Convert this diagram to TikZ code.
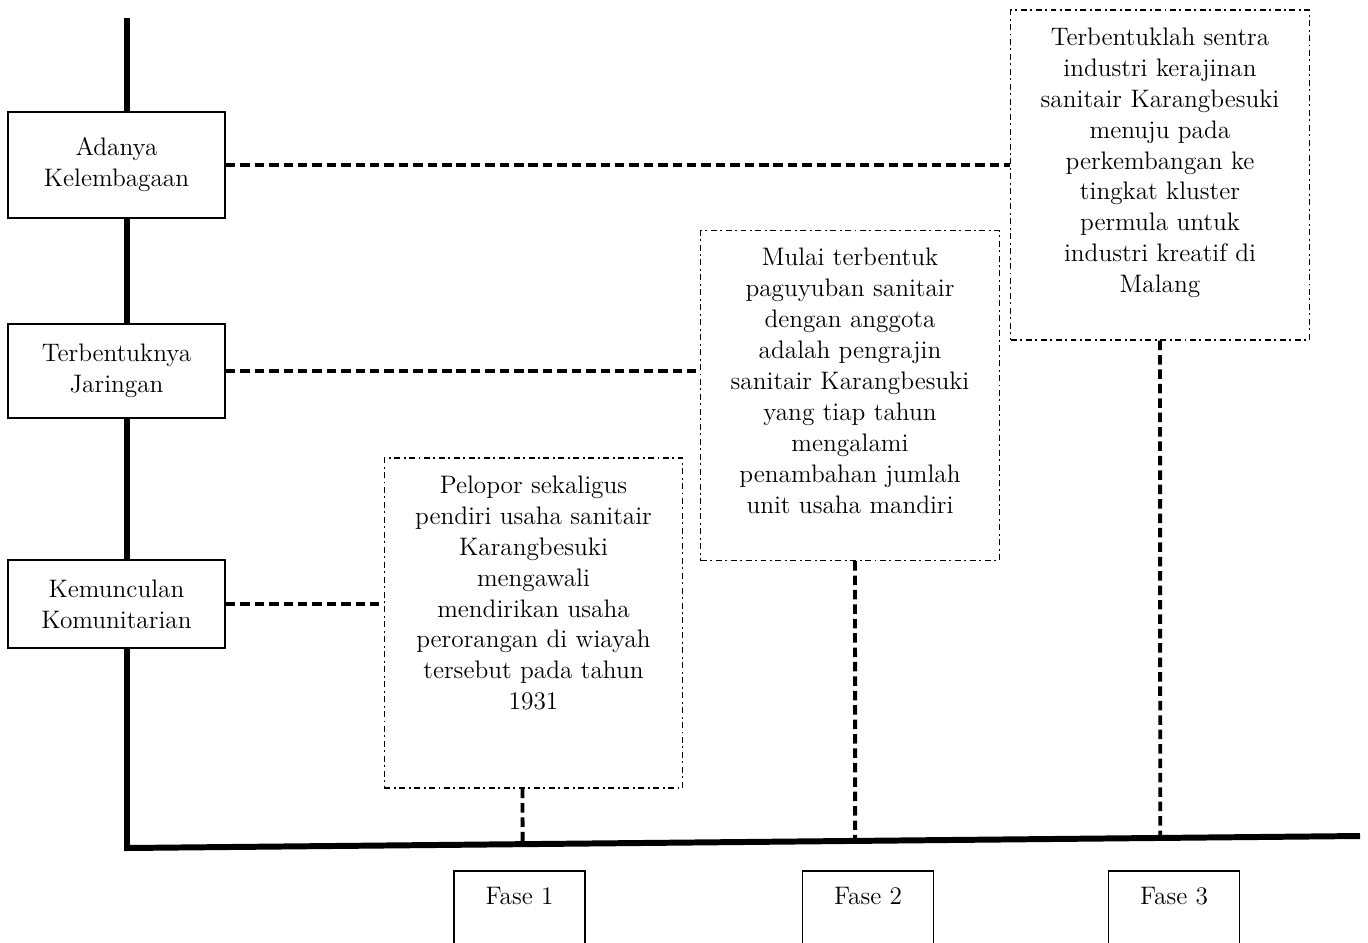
\documentclass[tikz,border=0pt]{standalone}
\usetikzlibrary{calc}
\begin{document}
\begin{tikzpicture}[
	font = \fontsize{14.4}{17.6}\selectfont,
	kotak/.style = {draw, fill = white, line width = 1pt, minimum width = 4.34cm, align = center},
	fase/.style = {draw, line width = 1pt, minimum width = 2.62cm, text height = 0.56cm, text depth = 1.6cm, anchor = north},
	uraian/.style = {draw, line width = 0.7pt, dash pattern = on 3.4pt off 2pt on 1.1pt off 2pt, minimum width = 5.97cm, minimum height = 6.6cm},
	isi/.style = {anchor = north, align = center, inner sep = 0pt, text width = 5.6cm, yshift = -0.36cm},
	garis/.style = {line width = 2.2pt, dash pattern = on 5.4pt off 2.8pt}
	]
	\clip (0,0) rectangle (27.36,-18.84);
	\coordinate (atas) at (2.54,-0.36);
	\coordinate (pusat) at (2.54,-16.96);
	\coordinate (ujung) at (27.2,-16.72);
	\draw [line width = 3.4pt] (atas) -- (pusat) -- (ujung);
	\node [kotak, minimum height = 2.12cm] (k1) at (2.33,-3.30) {Adanya\\Kelembagaan};
	\node [kotak, minimum height = 1.88cm] (k2) at (2.33,-7.42) {Terbentuknya\\Jaringan};
	\node [kotak, minimum height = 1.76cm] (k3) at (2.33,-12.08) {Kemunculan\\Komunitarian};
	\node [uraian] (p1) at (10.67,-12.46) {};
	\node [isi] (t1) at (p1.north) {Pelopor sekaligus\\pendiri usaha sanitair\\Karangbesuki\\mengawali\\mendirikan usaha\\perorangan di wiayah\\tersebut pada tahun\\1931};
	\node [uraian] (p2) at (17.0,-7.91) {};
	\node [isi] (t2) at (p2.north) {Mulai terbentuk\\paguyuban sanitair\\dengan anggota\\adalah pengrajin\\sanitair Karangbesuki\\yang tiap tahun\\mengalami\\penambahan jumlah\\unit usaha mandiri};
	\node [uraian] (p3) at (23.2,-3.5) {};
	\node [isi] (t3) at (p3.north) {Terbentuklah sentra\\industri kerajinan\\sanitair Karangbesuki\\menuju pada\\perkembangan ke\\tingkat kluster\\permula untuk\\industri kreatif di\\Malang};
	\coordinate (a1) at ($(p1.south)+(-0.22,0)$);
	\coordinate (a2) at ($(p2.south)+(0.1,0)$);
	\coordinate (a3) at (p3.south);
	\draw [garis] (k1.east) -- (k1.east -| p3.west);
	\draw [garis] (k2.east) -- (k2.east -| p2.west);
	\draw [garis] (k3.east) -- (k3.east -| p1.west);
	\foreach \i in {1,2,3}
		\draw [garis] (a\i) -- (intersection cs: first line = {(pusat)--(ujung)}, second line = {(a\i)--($(a\i)+(0,-1)$)});
	\node [fase] (f1) at (10.39,-17.4) {Fase 1};
	\node [fase] (f2) at (17.36,-17.4) {Fase 2};
	\node [fase] (f3) at (23.48,-17.4) {Fase 3};
\end{tikzpicture}
\end{document}
